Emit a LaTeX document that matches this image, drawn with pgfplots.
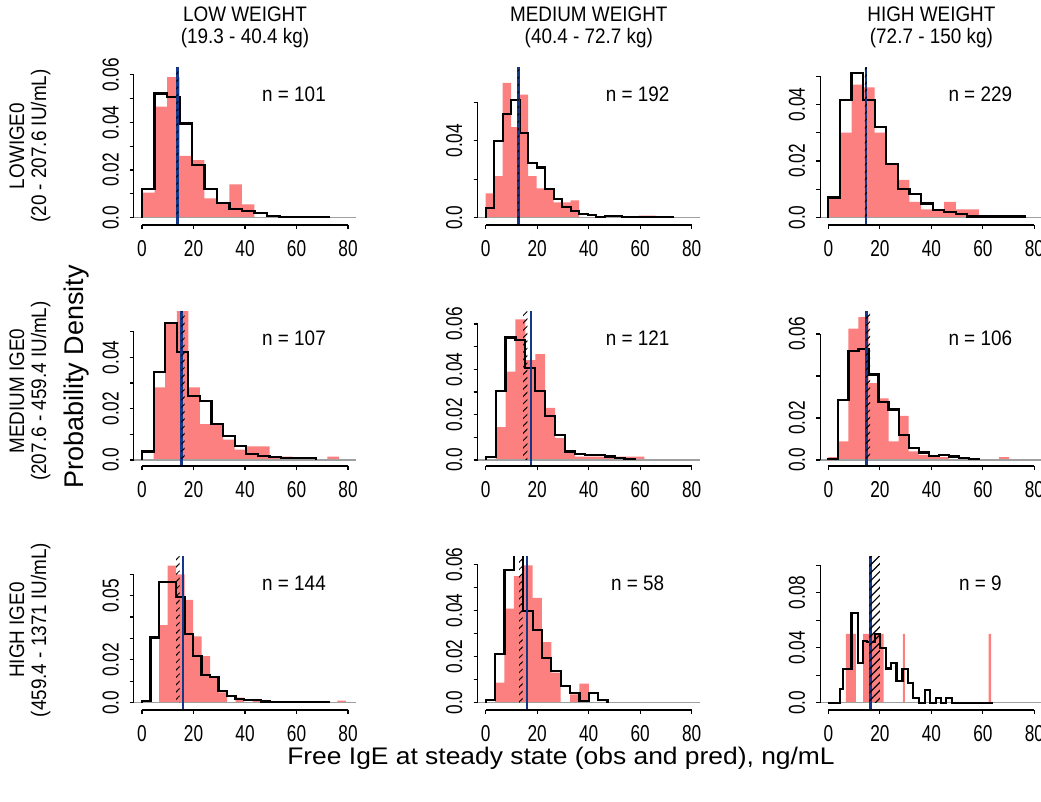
\documentclass[border=0pt]{standalone}
\usepackage{pgfplots}
\pgfplotsset{compat=1.18}
\usetikzlibrary{patterns.meta}
\usepackage{fontspec}
\setmainfont{Liberation Sans}
\newfontfamily\narrowA[FakeStretch=0.75]{Liberation Sans}
\newfontfamily\narrowB[FakeStretch=0.9]{Liberation Sans}
\newfontfamily\wideA[FakeStretch=1.1]{Liberation Sans}
\definecolor{obsred}{RGB}{252,128,128}
\definecolor{medblue}{RGB}{20,55,135}
\definecolor{basegray}{RGB}{160,160,160}
\newcommand\ticfont{\fontsize{11.5}{11.5}\selectfont\narrowA}
\newcommand\nfont{\fontsize{10.5}{10.5}\selectfont\narrowB}
\newcommand\titfont{\fontsize{10.5}{11}\selectfont\narrowB}

\pgfplotsset{
  panel/.style={
    scale only axis, width=111.25pt, anchor=south west,
    xmin=-3.2, xmax=83.2,
    axis line style={draw=none},
    xtick={0,20,40,60,80}, xticklabels={0,20,40,60,80},
    xtick pos=left, ytick pos=left, tick align=outside,
    major tick length=2pt, tick style={black, line width=0.6pt},
    scaled ticks=false,
    xticklabel style={font=\ticfont, anchor=north, yshift=-2pt},
    yticklabel style={font=\ticfont, xshift=-2pt, rotate=90, anchor=south},
    clip mode=individual,
  },
  obs/.style={fill=obsred, draw=none, const plot},
  pred/.style={black, line width=1.1pt, const plot},
}
\newcommand\zeroline{\addplot[basegray, line width=0.8pt] coordinates {(-3.2,0) (83.2,0)};}
\newcommand\medline[1]{\addplot[medblue, line width=1.3pt] coordinates {(#1,-1) (#1,1)};}
\newcommand\hatchband[2]{\addplot[draw=none, pattern={Lines[angle=45,distance=2.6pt,line width=0.5pt]}] coordinates {(#1,1) (#2,1)} \closedcycle;}
\newcommand\panelframe[2]{%
  \draw[line width=0.6pt] ({axis cs:0,0}|-{rel axis cs:0,0}) -- ({axis cs:80,0}|-{rel axis cs:0,0});
  \draw[line width=0.6pt] ({rel axis cs:0,0}|-{axis cs:0,0}) -- ({rel axis cs:0,0}|-{axis cs:0,#1});
  \node[font=\nfont] at (rel axis cs:0.72,0.83) {#2};
}

\begin{document}
\begin{tikzpicture}[x=0.5pt,y=0.5pt]
\path[use as bounding box] (0,0) rectangle (1041,802);

% ---------------- row 1 : low IGE0
\begin{axis}[panel, at={(66.9pt,288.5pt)}, height=78.5pt, ymin=-0.00307, ymax=0.0629,
  ytick={0,0.01,0.02,0.03,0.04,0.05,0.06}, yticklabels={0.0,,0.02,,0.04,,0.06}]
\addplot[obs] coordinates {(0,0.0105) (4.85,0.0466) (9.7,0.059) (14.55,0.026) (19.4,0.0242) (24.25,0.0081) (29.1,0.006) (33.95,0.014) (38.8,0.0056) (43.65,0)} \closedcycle;
\zeroline
\addplot[pred] coordinates {(0,0) (0,0.0119) (4.85,0.0522) (9.7,0.0508) (14.55,0.0396) (19.4,0.022) (24.25,0.0122) (29.1,0.0063) (33.95,0.0035) (38.8,0.0028) (43.65,0.0018) (48.5,0.0008) (53.35,0.0004) (72.75,0)};
\medline{13.8}
\hatchband{13.3}{14.1}
\panelframe{0.06}{n = 101}
\end{axis}

\begin{axis}[panel, at={(238.75pt,288.5pt)}, height=78.5pt, ymin=-0.0038, ymax=0.0778,
  ytick={0,0.02,0.04,0.06}, yticklabels={0.0,,0.04,}]
\addplot[obs] coordinates {(0,0.0126) (3.3,0.0216) (6.6,0.07) (9.9,0.047) (13.2,0.064) (16.5,0.0216) (19.8,0.0152) (26.4,0.008) (33,0.009) (36.3,0) (59.4,0.001) (66,0)} \closedcycle;
\zeroline
\addplot[pred] coordinates {(0,0) (0,0.005) (3.3,0.040) (6.6,0.054) (9.9,0.061) (13.2,0.0442) (16.5,0.0286) (19.8,0.0261) (23.1,0.0147) (26.4,0.0097) (29.7,0.0057) (33,0.0036) (36.3,0.0019) (39.6,0.0012) (42.9,0.0005) (46.2,0.0009) (52.8,0.0005) (72.6,0)};
\medline{12.7}
\hatchband{12.4}{13.0}
\panelframe{0.06}{n = 192}
\end{axis}

\begin{axis}[panel, at={(410.05pt,288.5pt)}, height=78.5pt, ymin=-0.0026, ymax=0.0529,
  ytick={0,0.01,0.02,0.03,0.04,0.05}, yticklabels={0.0,,0.02,,0.04,}]
\addplot[obs] coordinates {(0,0.0071) (4.5,0.030) (9,0.047) (13.5,0.046) (18,0.030) (22.5,0.019) (27,0.0133) (31.5,0.0056) (36,0.0029) (45,0.0056) (49.5,0.0029) (58.5,0) (67.5,0.0007) (72,0)} \closedcycle;
\zeroline
\addplot[pred] coordinates {(0,0) (0,0.0071) (4.5,0.0415) (9,0.051) (13.5,0.0415) (18,0.0319) (22.5,0.019) (27,0.010) (31.5,0.0082) (36,0.005) (40.5,0.0026) (45,0.0021) (49.5,0.0012) (54,0.0004) (76.5,0)};
\medline{14.6}
\hatchband{14.2}{15.0}
\panelframe{0.05}{n = 229}
\end{axis}

% ---------------- row 2 : medium IGE0
\begin{axis}[panel, at={(66.9pt,168pt)}, height=77pt, ymin=-0.00234, ymax=0.0577,
  ytick={0,0.01,0.02,0.03,0.04,0.05}, yticklabels={0.0,,0.02,,0.04,}]
\addplot[obs] coordinates {(4.5,0.0283) (9,0.053) (13.5,0.058) (18,0.0283) (22.5,0.014) (31.5,0.0079) (36,0.004) (40.5,0.0053) (49.5,0.0013) (58.5,0.0009) (67.5,0) (72,0.0013) (76.5,0)} \closedcycle;
\zeroline
\addplot[pred] coordinates {(0,0) (0,0.0033) (4.5,0.0342) (9,0.0533) (13.5,0.042) (18,0.025) (22.5,0.023) (27,0.014) (31.5,0.0092) (36,0.0053) (40.5,0.0024) (45,0.0016) (49.5,0.0013) (54,0.0009) (58.5,0.0007) (67.5,0)};
\medline{15.3}
\hatchband{15.3}{16.5}
\panelframe{0.05}{n = 107}
\end{axis}

\begin{axis}[panel, at={(238.75pt,168pt)}, height=77pt, ymin=-0.00265, ymax=0.0653,
  ytick={0,0.01,0.02,0.03,0.04,0.05,0.06}, yticklabels={0.0,,0.02,,0.04,,0.06}]
\addplot[obs] coordinates {(3.85,0.0145) (7.7,0.039) (11.55,0.062) (15.4,0.044) (19.25,0.0467) (23.1,0.023) (26.95,0.0096) (30.8,0.0037) (34.65,0.0015) (61.6,0)} \closedcycle;
\zeroline
\addplot[pred] coordinates {(0,0) (0,0.0012) (3.85,0.0304) (7.7,0.054) (11.55,0.053) (15.4,0.0407) (19.25,0.0304) (23.1,0.0193) (26.95,0.0111) (30.8,0.0037) (34.65,0.0027) (38.5,0.0022) (46.2,0.0015) (50.05,0.0007) (53.9,0.0004) (57.75,0)};
\medline{17.5}
\hatchband{14.5}{16.2}
\panelframe{0.06}{n = 121}
\end{axis}

\begin{axis}[panel, at={(410.05pt,168pt)}, height=77pt, ymin=-0.00286, ymax=0.0705,
  ytick={0,0.02,0.04,0.06}, yticklabels={0.0,0.02,,0.06}]
\addplot[obs] coordinates {(0,0.0013) (3.9,0.0089) (7.8,0.0626) (11.7,0.068) (15.6,0.0366) (19.5,0.0293) (23.4,0.0089) (27.3,0.021) (31.2,0.0041) (35.1,0.0024) (39,0.0013) (46.8,0) (66.3,0.0013) (70.2,0)} \closedcycle;
\zeroline
\addplot[pred] coordinates {(0,0) (0,0.0003) (3.9,0.0285) (7.8,0.052) (11.7,0.0528) (15.6,0.0407) (19.5,0.0276) (23.4,0.024) (27.3,0.0117) (31.2,0.0057) (35.1,0.0036) (39,0.002) (42.9,0.0024) (46.8,0.0016) (50.7,0.0011) (54.6,0.0005) (58.5,0)};
\medline{14.8}
\hatchband{14.6}{16.2}
\panelframe{0.06}{n = 106}
\end{axis}

% ---------------- row 3 : high IGE0
\begin{axis}[panel, at={(66.9pt,46pt)}, height=76.5pt, ymin=-0.0034, ymax=0.0681,
  ytick={0,0.01,0.02,0.03,0.04,0.05,0.06}, yticklabels={0.0,,0.02,,,0.05,}]
\addplot[obs] coordinates {(6.6,0.0363) (9.9,0.064) (13.2,0.06) (16.5,0.048) (19.8,0.031) (23.1,0.0218) (26.4,0.0121) (29.7,0.0048) (33,0) (36.3,0.0024) (39.6,0) (42.9,0.0008) (46.2,0) (75.9,0.001) (79.2,0)} \closedcycle;
\zeroline
\addplot[pred] coordinates {(0,0) (0,0.0009) (3.3,0.0305) (6.6,0.0565) (13.2,0.0495) (16.5,0.032) (19.8,0.022) (23.1,0.0129) (26.4,0.0121) (29.7,0.0056) (33,0.0032) (36.3,0.0019) (39.6,0.0011) (46.2,0.0006) (49.5,0.0004) (72.6,0)};
\medline{15.9}
\hatchband{13.2}{14.6}
\panelframe{0.06}{n = 144}
\end{axis}

\begin{axis}[panel, at={(238.75pt,46pt)}, height=76.5pt, ymin=-0.0032, ymax=0.0633,
  ytick={0,0.01,0.02,0.03,0.04,0.05,0.06}, yticklabels={0.0,,0.02,,0.04,,0.06}]
\addplot[obs] coordinates {(3.64,0.0087) (7.28,0.0408) (10.92,0.055) (14.56,0.0596) (18.2,0.0455) (21.84,0.0263) (25.48,0.013) (29.12,0) (32.76,0.0036) (36.4,0.0082) (40.04,0)} \closedcycle;
\zeroline
\addplot[pred] coordinates {(0,0) (0,0.001) (3.64,0.021) (7.28,0.0578) (10.92,0.075) (14.56,0.0398) (18.2,0.0314) (21.84,0.0195) (25.48,0.0137) (29.12,0.0072) (32.76,0.0043) (36.4,0.0007) (40.04,0.0043) (43.68,0.001) (47.32,0)};
\medline{16.0}
\hatchband{13.0}{14.3}
\panelframe{0.06}{n = 58}
\end{axis}

\begin{axis}[panel, at={(410.05pt,46pt)}, height=76.5pt, ymin=-0.0053, ymax=0.106,
  ytick={0,0.02,0.04,0.06,0.08,0.10}, yticklabels={0.0,,0.04,,0.08,}]
\addplot[obs] coordinates {(6.8,0.05) (10.7,0) (13.5,0.05) (21.5,0) (28.9,0.05) (29.7,0) (62.2,0.05) (63.2,0)} \closedcycle;
\zeroline
\addplot[pred] coordinates {(0,0) (4.5,0.0097) (5.8,0.0243) (9.0,0.0655) (11.4,0.029) (13.5,0.045) (15.1,0.044) (18.1,0.05) (20.0,0.04) (22.3,0.0248) (24.3,0.029) (26.5,0.0158) (28.8,0.0243) (31.0,0.0146) (32.9,0.0032) (35.2,0) (37.4,0.0092) (39.6,0) (41.9,0.0036) (43.9,0) (45.8,0.0036) (48.1,0) (63.9,0)};
\medline{16.4}
\addplot[draw=none, pattern={Lines[angle=45,distance=2.8pt,line width=0.6pt]}] coordinates {(15.9,1) (20.0,1)} \closedcycle;
\panelframe{0.10}{n = 9}
\end{axis}

% ---------------- titles
\node[font=\titfont, align=center] at (245,774.5) {LOW WEIGHT\\(19.3 - 40.4 kg)};
\node[font=\titfont, align=center] at (588.8,774.5) {MEDIUM WEIGHT\\(40.4 - 72.7 kg)};
\node[font=\titfont, align=center] at (931.4,774.5) {HIGH WEIGHT\\(72.7 - 150 kg)};
\node[font=\titfont, align=center, rotate=90] at (30,656) {LOWIGE0\\(20 - 207.6 IU/mL)};
\node[font=\titfont, align=center, rotate=90] at (30,411) {MEDIUM IGE0\\(207.6 - 459.4 IU/mL)};
\node[font=\titfont, align=center, rotate=90] at (30,172) {HIGH IGE0\\(459.4 - 1371 IU/mL)};
\node[font=\fontsize{13.5}{14}\selectfont, rotate=90] at (77,425) {Probability Density};
\node[font=\fontsize{12}{12}\selectfont\wideA] at (561,44) {Free IgE at steady state (obs and pred), ng/mL};
\end{tikzpicture}
\end{document}
